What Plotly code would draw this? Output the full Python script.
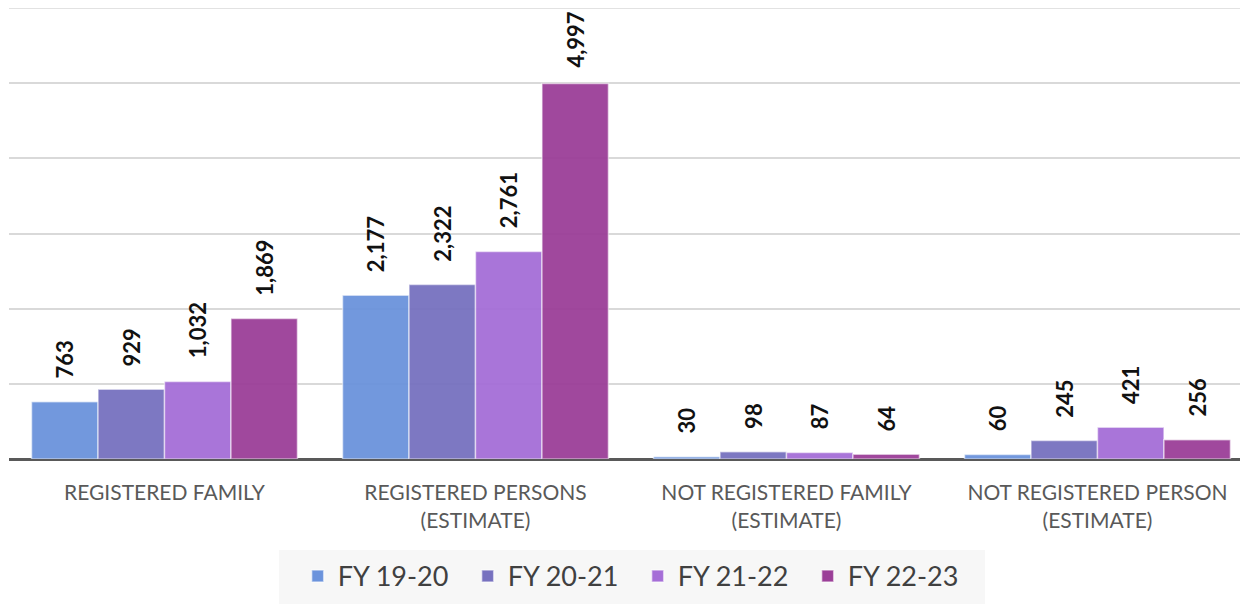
import plotly.graph_objects as go

categories = ["REGISTERED FAMILY", "REGISTERED PERSONS<br>(ESTIMATE)",
              "NOT REGISTERED FAMILY<br>(ESTIMATE)", "NOT REGISTERED PERSON<br>(ESTIMATE)"]
series_names = ["FY 19-20", "FY 20-21", "FY 21-22", "FY 22-23"]
fy_19_20 = [763, 2177, 30, 60]
fy_20_21 = [929, 2322, 98, 245]
fy_21_22 = [1032, 2761, 87, 421]
fy_22_23 = [1869, 4997, 64, 256]
series_values = [fy_19_20, fy_20_21, fy_21_22, fy_22_23]
colors = ["#6b93dc", "#7771bf", "#a56ed7", "#9b3f98"]

BARGAP = 0.145
n = len(series_names)
bw = (1 - BARGAP) / n
Y_MAX = 6000

fig = go.Figure()
for j, (name, vals, col) in enumerate(zip(series_names, series_values, colors)):
    fig.add_trace(go.Bar(
        name=name, x=list(range(len(categories))), y=vals,
        marker=dict(color=col, opacity=0.95, line=dict(color="rgba(255,255,255,0.55)", width=1.5)),
    ))
    for i, v in enumerate(vals):
        # labels near the top of the chart are nudged closer to their bar so they stay inside
        shift = 14 if v > 0.8 * Y_MAX else 21
        fig.add_annotation(
            x=i + (j - (n - 1) / 2) * bw, y=v, xref="x", yref="y",
            text=f"{v:,}", textangle=-90, showarrow=False,
            yanchor="bottom", xanchor="center", yshift=shift,
            font=dict(family="Lato", size=22, color="#111111", weight="bold"),
        )

# top gridline (at the edge of the plot area)
fig.add_shape(type="line", xref="paper", yref="paper", x0=0, x1=1, y0=1, y1=1,
              line=dict(color="#d9d9d9", width=1.5), layer="below")
# legend background panel
fig.add_shape(type="rect", xref="paper", yref="paper", layer="below",
              x0=0.2179, x1=0.7877, y0=-0.35, y1=-0.2018,
              fillcolor="#f7f7f7", line=dict(width=0))

fig.update_layout(
    width=1240, height=596,
    margin=dict(l=1, r=0, t=0, b=145),
    paper_bgcolor="white", plot_bgcolor="white",
    barmode="group", bargap=BARGAP, bargroupgap=0,
    showlegend=True,
    legend=dict(
        orientation="h", x=0.233, xanchor="left", y=-0.206, yanchor="top",
        bgcolor="rgba(0,0,0,0)", font=dict(family="Lato", size=27, color="#404040"),
        entrywidth=125,
    ),
    font=dict(family="Lato"),
)
fig.update_xaxes(
    range=[-0.5, 3.484], tickmode="array", tickvals=list(range(len(categories))),
    ticktext=categories, showgrid=False, showline=False, zeroline=False,
    ticks="outside", ticklen=15, tickcolor="rgba(0,0,0,0)",
    tickfont=dict(family="Lato", size=21, color="#595959"),
)
fig.update_yaxes(
    range=[0, Y_MAX], tickmode="array", tickvals=[0, 1000, 2000, 3000, 4000, 5000, 6000],
    showticklabels=False,
    showgrid=True, gridcolor="#d9d9d9", gridwidth=1.5,
    zeroline=True, zerolinecolor="#595959", zerolinewidth=2.5,
)
fig.write_html("out.html")
